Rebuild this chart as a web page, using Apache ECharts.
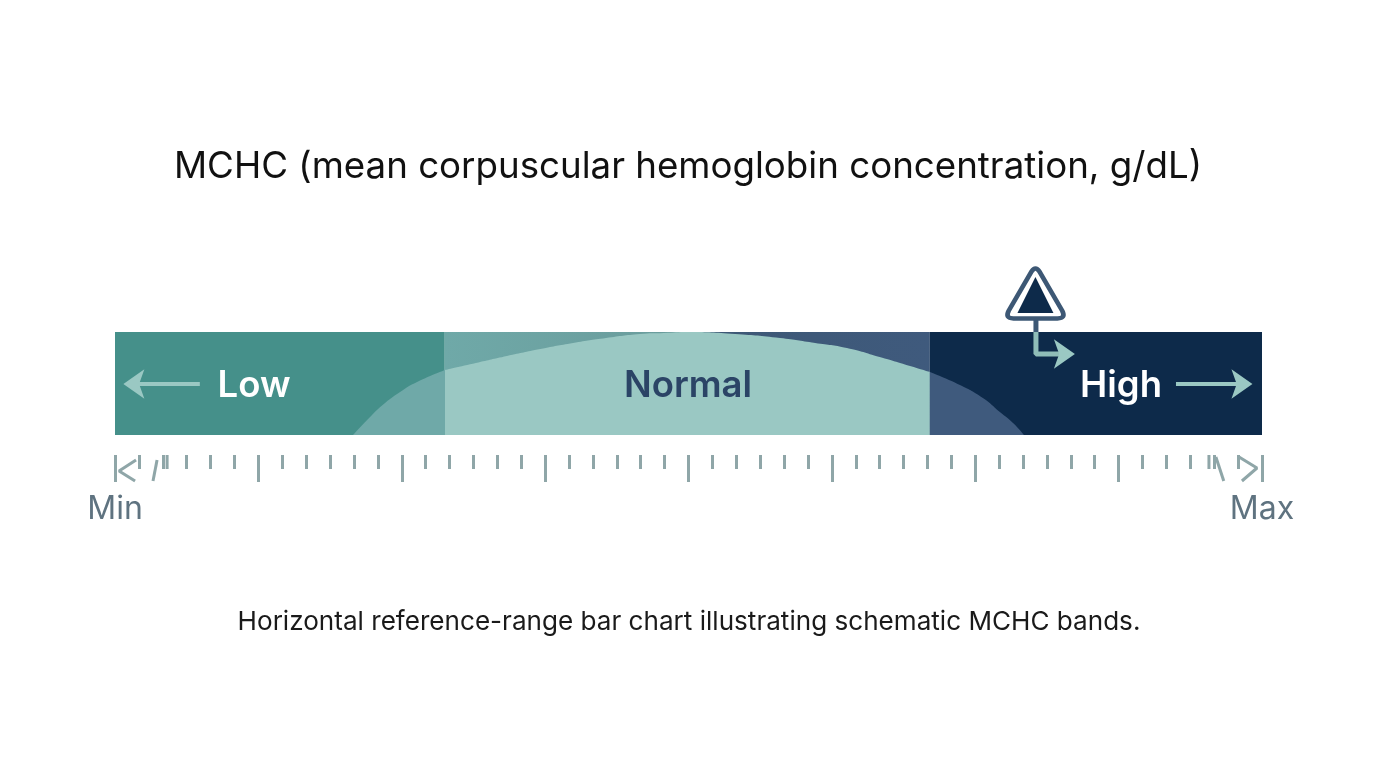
<!DOCTYPE html>
<html><head><meta charset="utf-8">
<style>html,body{margin:0;background:#fff}#c{width:1376px;height:768px}</style>
<script src="https://cdn.jsdelivr.net/npm/echarts@6/dist/echarts.min.js"></script>
</head><body><div id="c"></div>
<script>
const titleText = 'MCHC (mean corpuscular hemoglobin concentration, g/dL)';
const captionText = 'Horizontal reference-range bar chart illustrating schematic MCHC bands.';
const bandNames = ['Low', 'Normal', 'High'];
const bandWidths = [13.8, 20.3, 13.9];
const bandLabelAt = [[5.82,48.5],[23.98,48.5],[42.1,48.5]];
const scaleMin = 0, scaleMax = 48, majorStep = 6;
const endLabels = {0: 'Min', 48: 'Max'};
// dome outline: position on scale, height in schematic units
const domeLeft  = [[9.96,0],[10.55,15],[11.2,30],[11.93,43],[12.64,53],[13.81,65]];
const domeMid   = [[13.81,65],[15.1,72],[16.4,79],[17.8,86],[19.17,92],[20.55,97],[21.97,101],[22.97,102],[23.98,103],[25.95,101],[27.83,97],[29.3,92],[30.63,87],[32.0,78],[33.27,69],[34.1,63]];
const domeRight = [[34.1,63],[35.36,50],[36.32,37],[37.03,23],[37.58,12],[38.04,0]];
const arrowLow  = [[3.55,51],[0.8,51]];
const arrowHigh = [[44.4,51],[47.2,51]];
const elbowUpper = [[38.54,103],[38.54,115]];
const elbowLower = [[38.54,103],[38.54,81],[39.75,81]];
const headLeft = [[0.35,51]];
const headRight = [[47.6,51],[40.17,81]];
const markerAt = [[38.52,141.5]];
const markerCoreAt = [[38.52,140]];
const tickChevronL = [[0.88,22],[0.17,11],[0.84,1]];
const tickChevronR = [[47.04,25],[47.79,14],[47.16,1]];
const slashL = [[1.59,1],[1.76,22]];
const slashR = [[46.07,25],[46.4,1]];
const extraTicks = [2.18, 45.78];

const chart = echarts.init(document.getElementById('c'), null, {renderer:'canvas'});
const font = 'Inter, "Open Sans", sans-serif';
const teal = '#45908a', light = '#9ac8c3', navy = '#0d2a4a', slate = '#3d5875', tick = '#8fa6a8';
const roundedTriangle = 'path://M26 3 Q30 -3 34 3 L58 44 Q62 52 53 52 L7 52 Q-2 52 2 44 Z';
const polyline = (name, data, color, w, xi=1, yi=2) => ({
  type:'line', name, data, xAxisIndex:xi, yAxisIndex:yi, symbol:'none', silent:true, clip:false,
  lineStyle:{color, width:w}, z:6, animation:false
});
const head = (name, data, rot) => ({
  type:'scatter', name, data, xAxisIndex:1, yAxisIndex:2, symbol:'arrow', symbolSize:[22,21], symbolRotate:rot,
  silent:true, animation:false, z:7, itemStyle:{color:light,opacity:1}
});
const domePart = (name,data,color) => ({
  type:'line', name, data, xAxisIndex:1, yAxisIndex:2, smooth:0.5, symbol:'none', silent:true, animation:false, z:4,
  lineStyle:{width:0}, areaStyle:{color,opacity:1}
});
const tickLine = (name,data,color) => polyline(name,data,color,3,2,3);

chart.setOption({
  animation:false,
  backgroundColor:'#ffffff',
  title:[
    {text:titleText,left:683,top:143,textAlign:'center',textStyle:{fontFamily:font,fontSize:36.7,fontWeight:400,color:'#111'}},
    {text:captionText,left:684,top:604,textAlign:'center',textStyle:{fontFamily:font,fontSize:26.1,fontWeight:400,color:'#1a1a1a'}}
  ],
  grid:[
    {left:115,width:1147,top:332,height:103},
    {left:115,width:1147,top:262,height:173},
    {left:115,width:1147,top:455,height:27}
  ],
  xAxis:[
    {gridIndex:0,type:'value',min:scaleMin,max:scaleMax,show:false},
    {gridIndex:1,type:'value',min:scaleMin,max:scaleMax,show:false},
    {gridIndex:2,type:'value',min:scaleMin,max:scaleMax,interval:majorStep,position:'top',
      axisLine:{show:false,onZero:false},splitLine:{show:false},
      axisTick:{show:true,inside:true,length:27,lineStyle:{color:tick,width:3}},
      minorTick:{show:true,splitNumber:majorStep,length:14,lineStyle:{color:tick,width:3}},
      minorSplitLine:{show:false},
      axisLabel:{show:true,inside:true,margin:38,fontFamily:font,fontSize:32,color:'#5f7380',
        formatter:v=>endLabels[v]||'',showMinLabel:true,showMaxLabel:true}}
  ],
  yAxis:[
    {gridIndex:0,type:'category',data:['MCHC'],show:false},
    {gridIndex:1,type:'value',min:0,max:173,show:false},
    {gridIndex:1,type:'value',min:0,max:173,show:false},
    {gridIndex:2,type:'value',min:0,max:27,show:false}
  ],
  series:[
    ...bandNames.map((n,i)=>({
      type:'bar',name:n,stack:'b',xAxisIndex:0,yAxisIndex:0,barWidth:103,data:[bandWidths[i]],silent:true,animation:false,z:2,
      itemStyle:{color: i===0?teal: i===2?navy:
        new echarts.graphic.LinearGradient(0,0,1,0,[{offset:0,color:'#6fa9a8'},{offset:0.48,color:'#6a9c9c'},{offset:0.52,color:'#3d5875'},{offset:1,color:'#3f5a7d'}])}
    })),
    domePart('domeLeft',domeLeft,'#6fa9a8'),
    domePart('domeMid',domeMid,light),
    domePart('domeRight',domeRight,'#3f5a7d'),
    ...bandNames.map((n,i)=>({
      type:'scatter',name:n+' label',xAxisIndex:1,yAxisIndex:2,data:[bandLabelAt[i]],symbolSize:0,silent:true,animation:false,z:10,
      itemStyle:{opacity:1},
      label:{show:true,position:'inside',formatter:n,fontFamily:font,fontSize:36.5,fontWeight:600,color:i===1?'#2b4466':'#fff',opacity:1}
    })),
    polyline('arrowLow',arrowLow,light,4),
    polyline('arrowHigh',arrowHigh,light,4),
    head('headLeft',headLeft,90),
    head('headRight',headRight,-90),
    polyline('elbowUpper',elbowUpper,slate,5),
    polyline('elbow',elbowLower,'#8fbdb8',5),
    {type:'scatter',name:'marker',xAxisIndex:1,yAxisIndex:2,data:markerAt,symbol:roundedTriangle,symbolSize:[56,50],silent:true,animation:false,z:8,
      itemStyle:{color:'#fff',opacity:1,borderColor:slate,borderWidth:4.5}},
    {type:'scatter',name:'markerCore',xAxisIndex:1,yAxisIndex:2,data:markerCoreAt,symbol:'triangle',symbolSize:[36,36],silent:true,animation:false,z:9,
      itemStyle:{color:navy,opacity:1}},
    tickLine('chevL',tickChevronL,tick),
    tickLine('chevR',tickChevronR,tick),
    tickLine('slashL',slashL,tick),
    tickLine('slashR',slashR,tick),
    {type:'custom',name:'extraTicks',xAxisIndex:2,yAxisIndex:3,data:extraTicks.map(v=>[v]),silent:true,animation:false,z:5,
      renderItem:(p,api)=>{const a=api.coord([api.value(0),27]),b=api.coord([api.value(0),13]);
        return {type:'line',shape:{x1:a[0],y1:a[1],x2:b[0],y2:b[1]},style:{stroke:tick,lineWidth:3}};}}
  ]
});
</script></body></html>
